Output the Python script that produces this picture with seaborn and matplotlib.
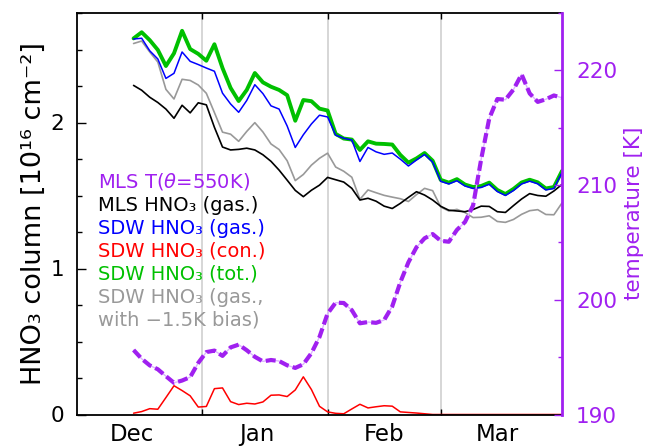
import numpy as np
import matplotlib
matplotlib.use("Agg")
import matplotlib.pyplot as plt
from matplotlib.ticker import MultipleLocator
import seaborn as sns

# Day of the season (0 = 1 December), every second day from 15 Dec to 31 Mar
day = np.arange(14, 121, 2)

# HNO3 columns [1e16 molec cm^-2]
mls_gas = [2.254, 2.221, 2.173, 2.137, 2.092, 2.029, 2.118, 2.066, 2.135, 2.121,
           1.967, 1.832, 1.812, 1.816, 1.824, 1.812, 1.779, 1.734, 1.674, 1.605,
           1.535, 1.492, 1.536, 1.571, 1.624, 1.608, 1.592, 1.549, 1.469, 1.481,
           1.461, 1.427, 1.411, 1.446, 1.487, 1.526, 1.503, 1.469, 1.426, 1.399,
           1.394, 1.389, 1.404, 1.427, 1.425, 1.389, 1.384, 1.431, 1.476, 1.513,
           1.500, 1.495, 1.531, 1.576]
sdw_gas = [2.572, 2.577, 2.491, 2.435, 2.302, 2.337, 2.483, 2.419, 2.397, 2.373,
           2.351, 2.201, 2.127, 2.070, 2.151, 2.259, 2.198, 2.114, 2.092, 1.976,
           1.829, 1.916, 1.990, 2.050, 2.038, 1.913, 1.892, 1.880, 1.733, 1.829,
           1.799, 1.782, 1.791, 1.749, 1.702, 1.743, 1.781, 1.728, 1.597, 1.579,
           1.601, 1.565, 1.548, 1.555, 1.577, 1.527, 1.500, 1.534, 1.579, 1.598,
           1.580, 1.538, 1.548, 1.658]
sdw_con = [0.009, 0.020, 0.040, 0.036, 0.116, 0.197, 0.164, 0.128, 0.051, 0.055,
           0.177, 0.182, 0.088, 0.068, 0.077, 0.072, 0.086, 0.132, 0.134, 0.123,
           0.168, 0.258, 0.171, 0.056, 0.018, 0.008, 0.005, 0.038, 0.070, 0.045,
           0.053, 0.060, 0.057, 0.018, 0.014, 0.010, 0.005, 0.0, 0.0, 0.0,
           0.0, 0.0, 0.0, 0.0, 0.0, 0.0, 0.0, 0.0, 0.0, 0.0,
           0.0, 0.0, 0.0, 0.0]
sdw_tot = [2.576, 2.618, 2.564, 2.497, 2.387, 2.474, 2.628, 2.503, 2.470, 2.423,
           2.536, 2.373, 2.237, 2.147, 2.223, 2.339, 2.275, 2.245, 2.223, 2.187,
           2.012, 2.154, 2.146, 2.095, 2.082, 1.922, 1.890, 1.883, 1.812, 1.871,
           1.855, 1.853, 1.849, 1.778, 1.725, 1.754, 1.791, 1.738, 1.607, 1.588,
           1.612, 1.575, 1.558, 1.565, 1.588, 1.538, 1.510, 1.545, 1.589, 1.608,
           1.590, 1.548, 1.558, 1.668]
sdw_gas_bias = [2.541, 2.558, 2.483, 2.414, 2.227, 2.161, 2.296, 2.288, 2.257, 2.200,
                2.068, 1.934, 1.920, 1.871, 1.939, 1.999, 1.935, 1.853, 1.815, 1.738,
                1.602, 1.644, 1.708, 1.755, 1.790, 1.695, 1.666, 1.625, 1.474, 1.538,
                1.519, 1.501, 1.489, 1.478, 1.459, 1.506, 1.549, 1.533, 1.421, 1.394,
                1.405, 1.383, 1.349, 1.351, 1.361, 1.322, 1.316, 1.336, 1.371, 1.396,
                1.403, 1.370, 1.368, 1.449]

# MLS temperature on the 550 K potential temperature surface [K]
mls_temp = [195.62, 194.86, 194.28, 193.94, 193.34, 192.76, 192.96, 193.26, 194.50, 195.44,
            195.57, 195.11, 195.85, 196.09, 195.60, 195.03, 194.63, 194.75, 194.66, 194.29,
            194.06, 194.38, 195.35, 196.76, 198.80, 199.75, 199.72, 199.09, 197.95, 198.06,
            197.99, 198.24, 199.43, 201.53, 203.27, 204.58, 205.36, 205.73, 205.14, 205.06,
            206.09, 206.78, 208.22, 212.25, 215.81, 217.50, 217.44, 218.33, 219.65, 217.99,
            217.25, 217.48, 217.81, 217.61]

month_starts = [31, 62, 90]
month_label_pos = [13.5, 44.5, 76, 104]
month_labels = ["Dec", "Jan", "Feb", "Mar"]

PURPLE = "#a020f0"
GREEN = "#00c000"
BLUE = "#0000ff"
RED = "#ff0000"
GRAY = "#999999"

sns.set_theme(style="ticks")
plt.rcParams["font.family"] = ["DejaVu Sans"]

W, H = 648, 447
fig = plt.figure(figsize=(W / 100, H / 100), dpi=100)
ax = fig.add_axes([77 / W, 1 - 414.5 / H, 485 / W, 401.5 / H])

for m in month_starts:
    ax.axvline(m, color="#cfcfcf", lw=1.2, zorder=0)

hno3_series = [
    (sdw_gas_bias, GRAY, 1.2),
    (mls_gas, "black", 1.2),
    (sdw_tot, GREEN, 2.8),
    (sdw_gas, BLUE, 1.1),
    (sdw_con, RED, 1.1),
]
for vals, col, lw in hno3_series:
    sns.lineplot(x=day, y=vals, color=col, lw=lw, ax=ax, zorder=2)

ax.set_xlim(0, 120)
ax.set_ylim(0, 2.75)
ax.set_yticks([0, 1, 2])
ax.yaxis.set_minor_locator(MultipleLocator(0.25))
ax.set_xticks(month_starts)
ax.set_xticks(month_label_pos, month_labels, minor=True)
ax.tick_params(axis="x", which="major", direction="in", top=True, bottom=True,
               length=4.5, width=1, labelbottom=False, color="black")
ax.tick_params(axis="x", which="minor", length=0, labelsize=16.5, pad=6,
               labelcolor="black")
ax.tick_params(axis="y", which="major", direction="in", left=True, right=False,
               length=6.5, width=1, labelsize=15.5, pad=9, color="black",
               labelcolor="black")
ax.tick_params(axis="y", which="minor", direction="in", left=True, right=False,
               length=3.6, width=1, color="black")
for s in ("left", "top", "bottom"):
    ax.spines[s].set_color("black")
    ax.spines[s].set_linewidth(1.3)
ax.spines["right"].set_visible(False)
ax.set_xlabel("")
ax.set_ylabel("HNO₃ column [10¹⁶ cm⁻²]", fontsize=19.5, color="black", labelpad=3)

# temperature on a second y axis
ax2 = ax.twinx()
sns.lineplot(x=day, y=mls_temp, color="#dcb4ff", lw=1.0, ax=ax2)
sns.lineplot(x=day, y=mls_temp, color=PURPLE, lw=3.0, ax=ax2)
ax2.lines[-1].set_dashes([2.4, 1.0])
ax2.set_ylim(190, 225)
ax2.set_yticks([190, 200, 210, 220])
ax2.yaxis.set_minor_locator(MultipleLocator(5))
ax2.tick_params(axis="y", which="major", direction="in", length=6, width=1,
                labelsize=15.5, pad=10, color=PURPLE, labelcolor=PURPLE)
ax2.tick_params(axis="y", which="minor", direction="in", length=3.2, width=1,
                color=PURPLE)
for s in ("left", "top", "bottom"):
    ax2.spines[s].set_visible(False)
ax2.spines["right"].set_color(PURPLE)
ax2.spines["right"].set_linewidth(2)
ax2.set_ylabel("temperature [K]", fontsize=15.5, color=PURPLE, labelpad=5)

# text legend
legend_rows = [
    ("MLS T($\\theta$=550K)", PURPLE),
    ("MLS HNO₃ (gas.)", "black"),
    ("SDW HNO₃ (gas.)", BLUE),
    ("SDW HNO₃ (con.)", RED),
    ("SDW HNO₃ (tot.)", GREEN),
    ("SDW HNO₃ (gas.,", GRAY),
    ("with −1.5K bias)", GRAY),
]
row_y = [181.7, 205, 228.3, 251, 274, 297.3, 320.5]
for (txt, col), yc in zip(legend_rows, row_y):
    fig.text(98 / W, 1 - yc / H, txt, color=col, fontsize=14, ha="left", va="center")

fig.savefig("out.png", dpi=100)
